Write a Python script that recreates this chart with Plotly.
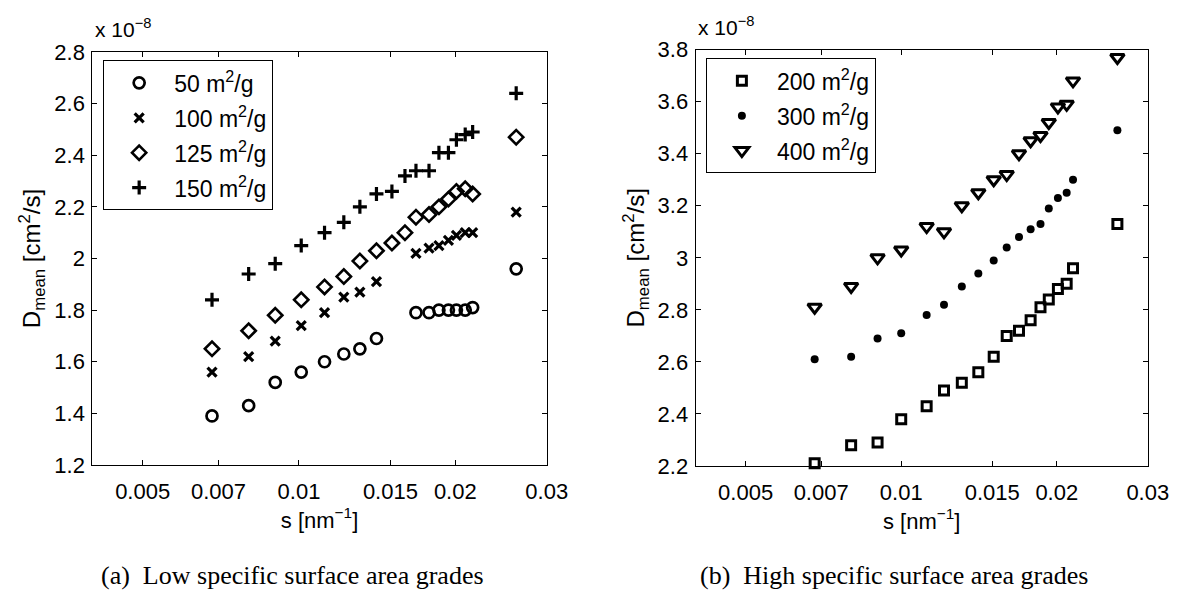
import plotly.graph_objects as go
import math

# ---------------- data (D in units of 1e-8 cm^2/s) ----------------
x_ticks = [0.005, 0.007, 0.01, 0.015, 0.02, 0.03]
x_tick_text = ["0.005", "0.007", "0.01", "0.015", "0.02", "0.03"]

s_50 = [0.0068, 0.0080, 0.0090, 0.0101, 0.0112, 0.0122, 0.0131, 0.0141,
        0.0168, 0.0178, 0.0186, 0.0194, 0.0201, 0.0209, 0.0216, 0.0262]
d_50 = [1.39, 1.43, 1.52, 1.56, 1.60, 1.63, 1.65, 1.69,
        1.79, 1.79, 1.80, 1.80, 1.80, 1.80, 1.81, 1.96]

s_100 = [0.0068, 0.0080, 0.0090, 0.0101, 0.0112, 0.0122, 0.0131, 0.0141,
         0.0168, 0.0178, 0.0186, 0.0194, 0.0201, 0.0209, 0.0216, 0.0262]
d_100 = [1.56, 1.62, 1.68, 1.74, 1.79, 1.85, 1.87, 1.91,
         2.02, 2.04, 2.05, 2.07, 2.09, 2.10, 2.10, 2.18]

s_125 = [0.0068, 0.0080, 0.0090, 0.0101, 0.0112, 0.0122, 0.0131, 0.0141, 0.0151,
         0.0160, 0.0168, 0.0178, 0.0186, 0.0194, 0.0201, 0.0209, 0.0216, 0.0262]
d_125 = [1.65, 1.72, 1.78, 1.84, 1.89, 1.93, 1.99, 2.03, 2.06,
         2.10, 2.16, 2.17, 2.20, 2.23, 2.26, 2.27, 2.25, 2.47]

s_150 = [0.0068, 0.0080, 0.0090, 0.0101, 0.0112, 0.0122, 0.0131, 0.0141, 0.0151,
         0.0160, 0.0168, 0.0178, 0.0186, 0.0194, 0.0201, 0.0209, 0.0216, 0.0262]
d_150 = [1.84, 1.94, 1.98, 2.05, 2.10, 2.14, 2.20, 2.25, 2.26,
         2.32, 2.34, 2.34, 2.41, 2.41, 2.46, 2.48, 2.49, 2.64]

s_high = [0.0068, 0.0080, 0.0090, 0.0100, 0.0112, 0.0121, 0.0131, 0.0141, 0.0151,
          0.0160, 0.0169, 0.0178, 0.0186, 0.0193, 0.0201, 0.0209, 0.0215, 0.0262]
d_200 = [2.21, 2.28, 2.29, 2.38, 2.43, 2.49, 2.52, 2.56, 2.62,
         2.70, 2.72, 2.76, 2.81, 2.84, 2.88, 2.90, 2.96, 3.13]
d_300 = [2.61, 2.62, 2.69, 2.71, 2.78, 2.82, 2.89, 2.94, 2.99,
         3.04, 3.08, 3.11, 3.13, 3.19, 3.23, 3.25, 3.30, 3.49]
d_400 = [2.81, 2.89, 3.00, 3.03, 3.12, 3.10, 3.20, 3.25, 3.30,
         3.32, 3.40, 3.45, 3.47, 3.52, 3.58, 3.59, 3.68, 3.77]

# ---------------- figure ----------------
W, H = 1196, 606
SANS = "Liberation Sans, Arial, Helvetica, sans-serif"
SERIF = "Liberation Serif, Times New Roman, serif"
BLACK = "#000000"

fig = go.Figure()

def add(xs, ys, name, symbol, size, lw, xa, ya, leg, grp):
    marker = dict(symbol=symbol, size=size, color=BLACK,
                  line=dict(color=BLACK, width=lw))
    fig.add_trace(go.Scatter(x=xs, y=ys, mode="markers", name=name,
                             marker=marker, xaxis=xa, yaxis=ya,
                             legend=leg, legendgroup=grp, cliponaxis=False))

add(s_50, d_50, "50 m<sup>2</sup>/g", "circle-open", 11, 2.7, "x", "y", "legend", "a")
add(s_100, d_100, "100 m<sup>2</sup>/g", "x-thin-open", 9, 3.2, "x", "y", "legend", "b")
add(s_125, d_125, "125 m<sup>2</sup>/g", "diamond-open", 11, 2.6, "x", "y", "legend", "c")
add(s_150, d_150, "150 m<sup>2</sup>/g", "cross-thin-open", 10, 3.2, "x", "y", "legend", "d")

add(s_high, d_200, "200 m<sup>2</sup>/g", "square-open", 9, 3.0, "x2", "y2", "legend2", "e")
add(s_high, d_300, "300 m<sup>2</sup>/g", "circle", 8, 0, "x2", "y2", "legend2", "f")
add(s_high, d_400, "400 m<sup>2</sup>/g", "triangle-down-open", 12, 3.0, "x2", "y2", "legend2", "g")

xaxis_common = dict(
    type="log", range=[math.log10(0.004), math.log10(0.03)],
    tickmode="array", tickvals=x_ticks, ticktext=x_tick_text,
    ticks="inside", ticklen=5, tickwidth=1, tickcolor=BLACK,
    showline=True, linecolor=BLACK, linewidth=1, mirror="ticks",
    showgrid=False, zeroline=False,
    tickfont=dict(family=SANS, size=22, color=BLACK),
    ticklabelstandoff=7,
    title=dict(text="s [nm<sup>−1</sup>]", font=dict(family=SANS, size=22, color=BLACK),
               standoff=4),
)
yaxis_common = dict(
    dtick=0.2, tick0=0,
    ticks="inside", ticklen=5, tickwidth=1, tickcolor=BLACK,
    showline=True, linecolor=BLACK, linewidth=1, mirror="ticks",
    showgrid=False, zeroline=False,
    tickfont=dict(family=SANS, size=22, color=BLACK),
    ticklabelstandoff=2,
    title=dict(text="D<sub>mean</sub> [cm<sup>2</sup>/s]",
               font=dict(family=SANS, size=24, color=BLACK), standoff=6),
)

legend_common = dict(xanchor="left", yanchor="top",
                     bordercolor=BLACK, borderwidth=1, bgcolor="white",
                     font=dict(family=SANS, size=23, color=BLACK),
                     itemwidth=60, tracegroupgap=2)

fig.update_layout(
    width=W, height=H,
    margin=dict(l=0, r=0, t=0, b=0),
    paper_bgcolor="white", plot_bgcolor="white",
    showlegend=True,
    xaxis=dict(xaxis_common, domain=[94 / W, 556.5 / W], anchor="y"),
    yaxis=dict(yaxis_common, domain=[1 - 472.5 / H, 1 - 41.7 / H], range=[1.2, 2.8], anchor="x"),
    xaxis2=dict(xaxis_common, domain=[708 / W, 1168.3 / W], anchor="y2"),
    yaxis2=dict(yaxis_common, domain=[1 - 473.5 / H, 1 - 39.3 / H], range=[2.2, 3.8], anchor="x2"),
    legend=dict(legend_common, x=105 / W, y=1 - 50.5 / H),
    legend2=dict(legend_common, x=718.5 / W, y=1 - 48.3 / H),
)

annos = [
    dict(text="x 10<sup>−8</sup>", x=95 / W, y=1 - 32 / H, xanchor="left", yanchor="bottom",
         font=dict(family=SANS, size=21, color=BLACK)),
    dict(text="x 10<sup>−8</sup>", x=708 / W, y=1 - 30 / H, xanchor="left", yanchor="bottom",
         font=dict(family=SANS, size=21, color=BLACK)),
    dict(text="(a)  Low specific surface area grades", x=298 / W, y=1 - 588 / H,
         xanchor="center", yanchor="middle", font=dict(family=SERIF, size=26, color=BLACK)),
    dict(text="(b)  High specific surface area grades", x=910 / W, y=1 - 588 / H,
         xanchor="center", yanchor="middle", font=dict(family=SERIF, size=26, color=BLACK)),
]
for a in annos:
    fig.add_annotation(xref="paper", yref="paper", showarrow=False, **a)

fig.write_html("out.html")
